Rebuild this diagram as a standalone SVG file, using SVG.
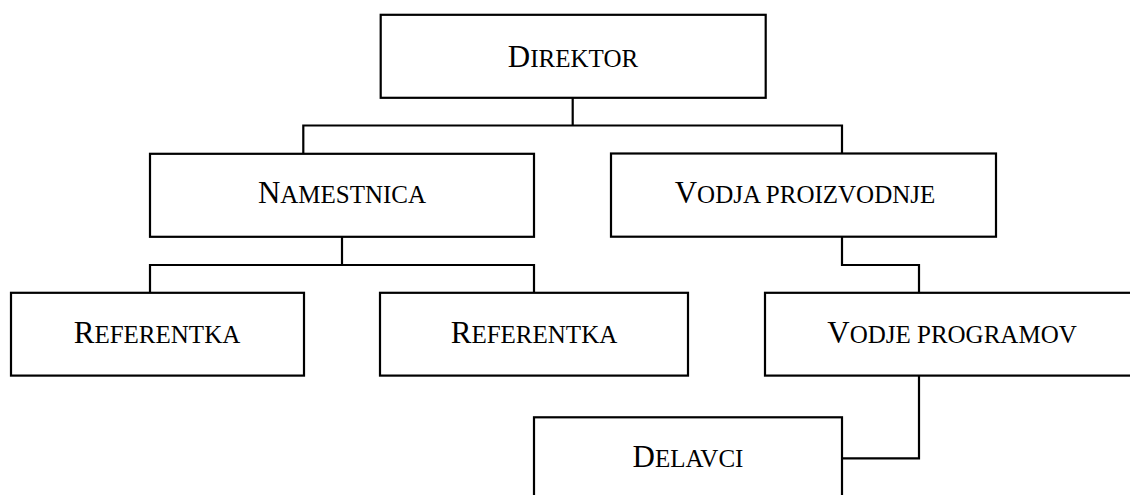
<svg xmlns="http://www.w3.org/2000/svg" width="1130" height="495" viewBox="0 0 1130 495">
<style>
.box{fill:#fff;stroke:#000;stroke-width:2.2}
.conn{fill:none;stroke:#000;stroke-width:2.2;stroke-linejoin:miter}
.lbl{font-family:"Liberation Serif","Times New Roman",serif;font-size:25px;fill:#000;text-anchor:middle}
.big{font-size:31px}
</style>
<rect width="1130" height="495" fill="#fff"/>
<g id="connectors">
<path class="conn" d="M572.7 98 V125.5"/>
<path class="conn" d="M303.3 154 V125.5 H842 V154"/>
<path class="conn" d="M342 237 V265"/>
<path class="conn" d="M150 293 V265 H534 V293"/>
<path class="conn" d="M842 237 V265 H919 V293"/>
<path class="conn" d="M919 376 V458.3 H842"/>
</g>
<g id="direktor">
<rect class="box" x="380.7" y="14.8" width="385" height="83"/>
<text class="lbl" x="573" y="66.7"><tspan class="big">D</tspan>IREKTOR</text>
</g>
<g id="namestnica">
<rect class="box" x="150" y="153.8" width="384" height="83"/>
<text class="lbl" x="342" y="203.3"><tspan class="big">N</tspan>AMESTNICA</text>
</g>
<g id="vodja-proizvodnje">
<rect class="box" x="611" y="153.5" width="385" height="83.2"/>
<text class="lbl" x="805" y="203.3"><tspan class="big">V</tspan>ODJA PROIZVODNJE</text>
</g>
<g id="referentka-1">
<rect class="box" x="11" y="292.8" width="293" height="82.8"/>
<text class="lbl" x="157" y="342.7"><tspan class="big">R</tspan>EFERENTKA</text>
</g>
<g id="referentka-2">
<rect class="box" x="380" y="292.8" width="308" height="82.8"/>
<text class="lbl" x="534" y="342.7"><tspan class="big">R</tspan>EFERENTKA</text>
</g>
<g id="vodje-programov">
<rect class="box" x="765" y="292.8" width="380" height="82.8"/>
<text class="lbl" x="952" y="342.7"><tspan class="big">V</tspan>ODJE PROGRAMOV</text>
</g>
<g id="delavci">
<rect class="box" x="534" y="417.3" width="308" height="90"/>
<text class="lbl" x="688" y="467.3"><tspan class="big">D</tspan>ELAVCI</text>
</g>
</svg>
